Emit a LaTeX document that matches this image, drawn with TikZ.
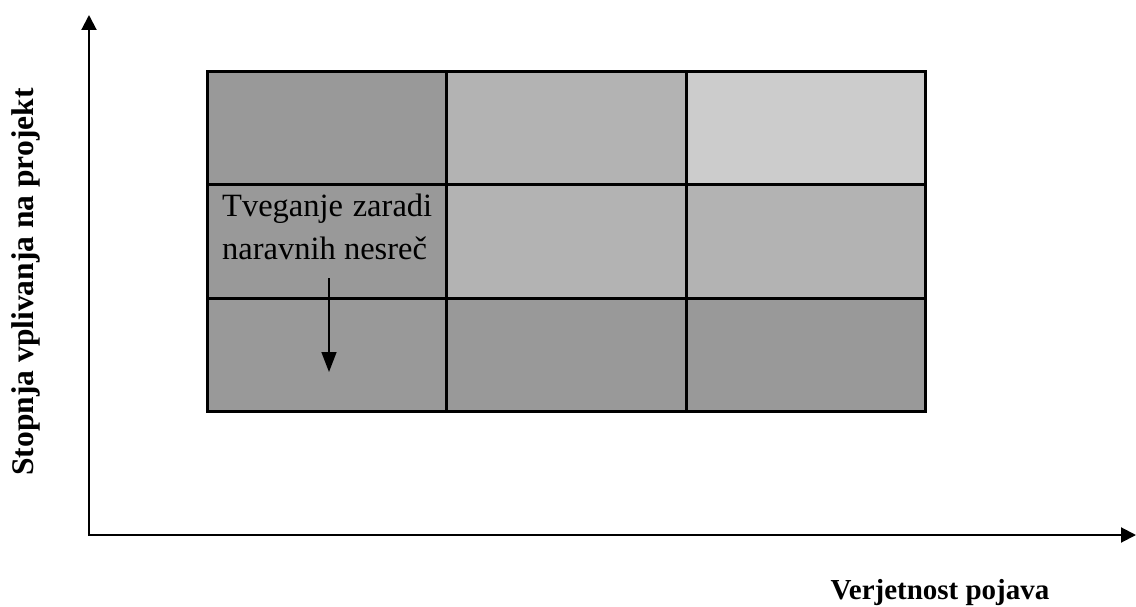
\documentclass[tikz,border=0pt]{standalone}
\usepackage{fontspec}
\setmainfont{Liberation Serif}
\usetikzlibrary{arrows.meta}
\definecolor{cellDark}{HTML}{999999}
\definecolor{cellMid}{HTML}{B3B3B3}
\definecolor{cellLight}{HTML}{CCCCCC}
\begin{document}
\begin{tikzpicture}[x=1pt,y=-1pt,
  cell/.style={draw=black,line width=3pt},
  axis/.style={line width=2pt,-{Triangle[length=15pt,width=15pt]}},
  ylabelstyle/.style={font=\fontsize{31.5}{36}\selectfont\bfseries,inner sep=0pt},
  xlabelstyle/.style={font=\fontsize{29}{36}\selectfont\bfseries,inner sep=0pt},
  celltext/.style={font=\fontsize{32.5}{42}\selectfont,inner sep=0pt,anchor=base west},
  pointer/.style={line width=1.5pt,-{Triangle[length=20pt,width=15pt]}}]
\useasboundingbox (0,0) rectangle (1136,607);
% risk matrix cells
\fill[cellDark]  (207,72)  rectangle (446,185);
\fill[cellMid]   (446,72)  rectangle (686,185);
\fill[cellLight] (686,72)  rectangle (925,185);
\fill[cellDark]  (207,185) rectangle (446,298);
\fill[cellMid]   (446,185) rectangle (686,298);
\fill[cellMid]   (686,185) rectangle (925,298);
\fill[cellDark]  (207,298) rectangle (925,411);
\draw[cell] (207,72) rectangle (925,411);
\draw[cell] (446,72) -- (446,411) (686,72) -- (686,411);
\draw[cell] (207,185) -- (925,185) (207,298) -- (925,298);
% axes
\coordinate (origin) at (89,535);
\coordinate (ytip) at (89,15);
\coordinate (xtip) at (1136,535);
\draw[axis] ([yshift=1pt]origin) -- (ytip);
\draw[axis] ([xshift=-1pt]origin) -- (xtip);
\node[ylabelstyle,rotate=90,anchor=base] (ylab) at (33,282) {Stopnja vplivanja na projekt};
\node[xlabelstyle,anchor=base] (xlab) at (940,599) {Verjetnost pojava};
% risk entry
\node[celltext] (riskA) at (222,217) {\makebox[210pt][s]{Tveganje zaradi}};
\node[celltext] (riskB) at (222,259) {naravnih nesreč};
\coordinate (ptrStart) at (329,278);
\coordinate (ptrEnd) at (329,372);
\draw[pointer] (ptrStart) -- (ptrEnd);
\end{tikzpicture}
\end{document}
